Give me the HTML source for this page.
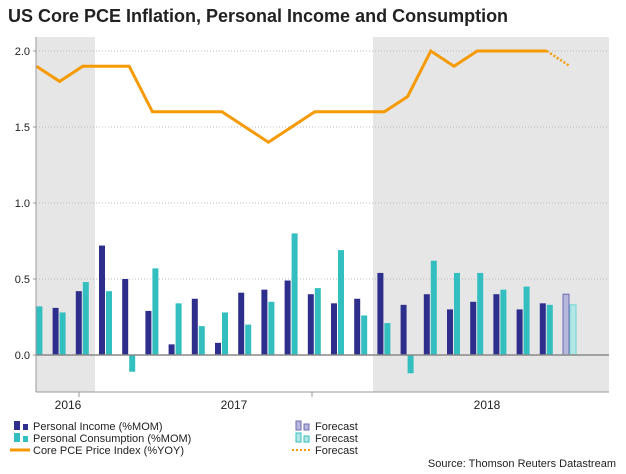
<!DOCTYPE html>
<html><head><meta charset="utf-8">
<style>
body{margin:0;background:#fff;font-family:"Liberation Sans",Arial,sans-serif;}
svg text{font-family:"Liberation Sans",Arial,sans-serif;}
</style></head>
<body>
<svg width="626" height="469" viewBox="0 0 626 469">
<text x="8" y="22" font-size="18" font-weight="bold" fill="#222">US Core PCE Inflation, Personal Income and Consumption</text>
<g id="plot"></g>
<g font-size="11" fill="#222">
  <rect x="14" y="421" width="6" height="9" fill="#2e2e8c"/><rect x="23" y="424" width="5" height="6" fill="#2e2e8c"/>
  <text x="33" y="430">Personal Income (%MOM)</text>
  <rect x="14" y="433" width="6" height="9" fill="#33bfbf"/><rect x="23" y="436" width="5" height="6" fill="#33bfbf"/>
  <text x="33" y="442">Personal Consumption (%MOM)</text>
  <line x1="10" y1="450" x2="30" y2="450" stroke="#f59a00" stroke-width="3"/>
  <text x="33" y="454">Core PCE Price Index (%YOY)</text>
  <rect x="296" y="421" width="5" height="9" fill="#b8b8dc" stroke="#6b6bb0"/><rect x="304" y="424" width="5" height="6" fill="#b8b8dc" stroke="#6b6bb0"/>
  <text x="315" y="430">Forecast</text>
  <rect x="296" y="433" width="5" height="9" fill="#b5e6e6" stroke="#33bfbf"/><rect x="304" y="436" width="5" height="6" fill="#b5e6e6" stroke="#33bfbf"/>
  <text x="315" y="442">Forecast</text>
  <line x1="292" y1="450" x2="312" y2="450" stroke="#f59a00" stroke-width="2" stroke-dasharray="2,2"/>
  <text x="315" y="454">Forecast</text>
  <text x="616" y="467" text-anchor="end" font-size="11">Source: Thomson Reuters Datastream</text>
</g>
</svg>
<script>
const income = [null,0.31,0.42,0.72,0.50,0.29,0.07,0.37,0.08,0.41,0.43,0.49,0.40,0.34,0.37,0.54,0.33,0.40,0.30,0.35,0.40,0.30,0.34,0.40];
const consumption = [0.32,0.28,0.48,0.42,-0.11,0.57,0.34,0.19,0.28,0.20,0.35,0.80,0.44,0.69,0.26,0.21,-0.12,0.62,0.54,0.54,0.43,0.45,0.33,0.33];
const corePCE = [1.9,1.8,1.9,1.9,1.9,1.6,1.6,1.6,1.6,1.5,1.4,1.5,1.6,1.6,1.6,1.6,1.7,2.0,1.9,2.0,2.0,2.0,2.0,1.9];
const forecastStart = 23;
const yTicks = [0.0,0.5,1.0,1.5,2.0];
const yearLabels = ["2016","2017","2018"];

const NS="http://www.w3.org/2000/svg";
const g=document.getElementById('plot');
const X0=36,X1=609,TOP=37,BOT=392;
function xPos(i){return 36.4+i*23.2;}
function yPos(v){return 355-v*152;}
function mk(tag,attrs,parent){const e=document.createElementNS(NS,tag);for(const k in attrs)e.setAttribute(k,attrs[k]);(parent||g).appendChild(e);return e;}

let r=mk('rect',{x:X0,y:TOP,width:95-X0,height:BOT-TOP,fill:'#e6e6e6'});


r=mk('rect',{x:373,y:TOP,width:X1-373,height:BOT-TOP,fill:'#e6e6e6'});



yTicks.forEach(t=>{
  const y=yPos(t);
  if(t!==0){const l=mk('line',{x1:X0,y1:y,x2:X1,y2:y,stroke:'#bbb','stroke-dasharray':'1,2'});
  
  }
  const tx=mk('text',{x:30,y:y+4,'text-anchor':'end','font-size':'11',fill:'#222'});
  tx.textContent=t.toFixed(1);
  
  
  mk('line',{x1:X0-3,y1:y,x2:X0,y2:y,stroke:'#999'});
});

income.forEach((v,i)=>{
  if(v==null)return;
  const fc=i>=forecastStart;
  const y=yPos(Math.max(v,0)),h=Math.abs(yPos(v)-yPos(0));
  const b=mk('rect',{x:xPos(i)-7,y:y,width:6,height:h,fill:fc?'#b8b8dc':'#2e2e8c',stroke:fc?'#6b6bb0':'none'});
  
  
});
consumption.forEach((v,i)=>{
  const fc=i>=forecastStart;
  const y=yPos(Math.max(v,0)),h=Math.abs(yPos(v)-yPos(0));
  const x=Math.max(xPos(i),X0);
  const b=mk('rect',{x:x,y:y,width:6,height:h,fill:fc?'#b5e6e6':'#33bfbf',stroke:fc?'#6fd6d6':'none'});
  
  
});

let l=mk('line',{x1:X0,y1:yPos(0),x2:X1,y2:yPos(0),stroke:'#888','stroke-width':1.5});



const solid=corePCE.slice(0,forecastStart).map((v,i)=>xPos(i)+','+yPos(v)).join(' ');
let p=mk('polyline',{points:solid,fill:'none',stroke:'#f59a00','stroke-width':3,'stroke-linejoin':'miter'});


const fpts=corePCE.slice(forecastStart-1).map((v,i)=>xPos(i+forecastStart-1)+','+yPos(v)).join(' ');
p=mk('polyline',{points:fpts,fill:'none',stroke:'#f59a00','stroke-width':2.5,'stroke-dasharray':'2,2'});



mk('line',{x1:X0,y1:TOP,x2:X0,y2:BOT,stroke:'#999'});
l=mk('line',{x1:X0,y1:BOT,x2:X1,y2:BOT,stroke:'#999'});


[79,312].forEach(x=>mk('line',{x1:x,y1:BOT,x2:x,y2:BOT+5,stroke:'#999'}));
const yearX=[68,234,487];
yearLabels.forEach((s,i)=>{
  const t=mk('text',{x:yearX[i],y:409,'text-anchor':'middle','font-size':'12',fill:'#222'});
  t.textContent=s;
  
  
});
</script>
</body></html>
